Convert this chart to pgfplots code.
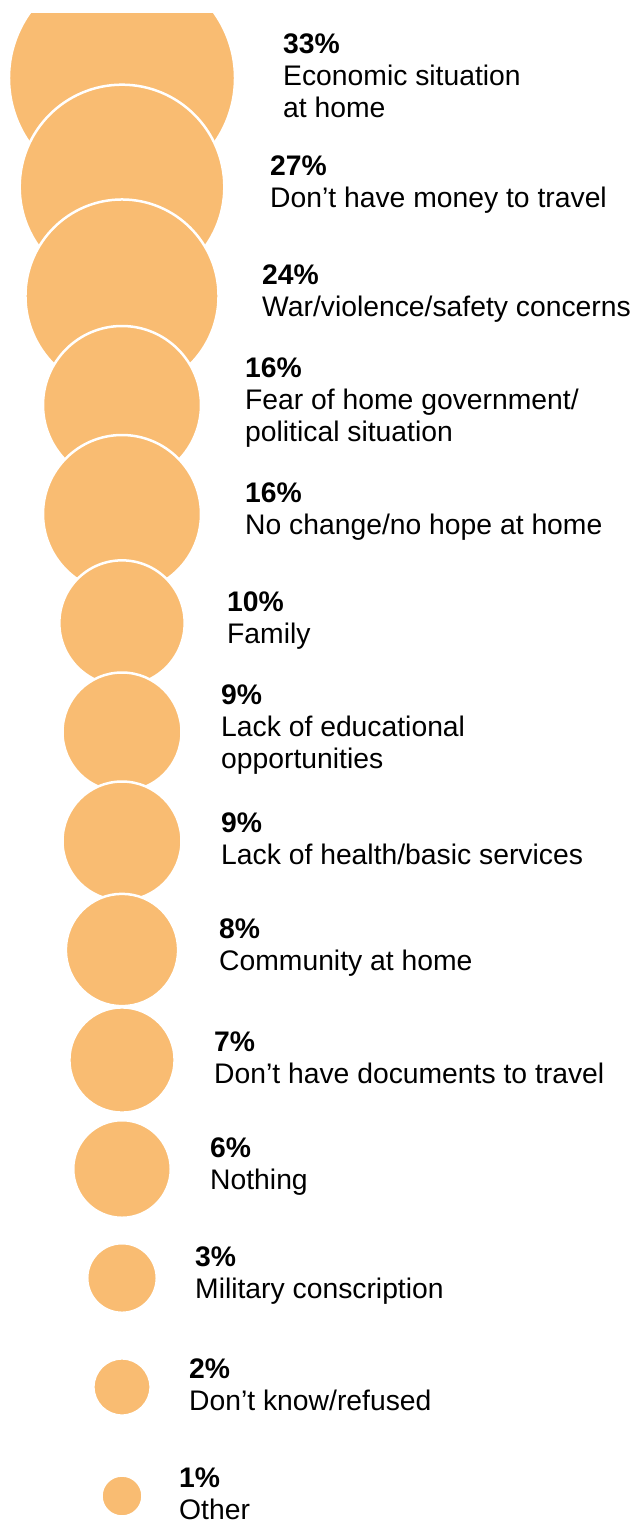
\documentclass[border=0pt]{standalone}
\usepackage{pgfplots}
\pgfplotsset{compat=1.18}
\usepackage{pgfplotstable}
\usepackage{fontspec}
\setmainfont{Liberation Sans}
\definecolor{bubble}{RGB}{249,188,114}

% y = bubble centre (px from top), v = share in %, lx = left edge of label
\pgfplotstableread[col sep=comma]{
cx,y,v,lx,label
122,78,33,283,{\textbf{33\%}\\Economic situation\\at home}
122,187,27,270,{\textbf{27\%}\\Don’t have money to travel}
122,296,24,262,{\textbf{24\%}\\War/violence/safety concerns}
122,405,16,245,{\textbf{16\%}\\Fear of home government/\\political situation}
122,514,16,245,{\textbf{16\%}\\No change/no hope at home}
122,623,10,227,{\textbf{10\%}\\Family}
122,732,9,221,{\textbf{9\%}\\Lack of educational\\opportunities}
122,841,9,221,{\textbf{9\%}\\Lack of health/basic services}
122,950,8,219,{\textbf{8\%}\\Community at home}
122,1060,7,214,{\textbf{7\%}\\Don’t have documents to travel}
122,1169,6,210,{\textbf{6\%}\\Nothing}
122,1278,3,195,{\textbf{3\%}\\Military conscription}
122,1387,2,189,{\textbf{2\%}\\Don’t know/refused}
122,1496,1,179,{\textbf{1\%}\\Other}
}\reasons

\begin{document}
\begin{tikzpicture}
\begin{axis}[
    width=633pt, height=1508pt, scale only axis,
    xmin=0, xmax=633, ymin=13, ymax=1521, y dir=reverse,
    hide axis,
    clip marker paths=true,
]
    % bubbles, area proportional to the share
    \addplot[scatter, only marks, mark=*,
        scatter/use mapped color={draw=white, fill=bubble},
        mark options={line width=2.5pt},
        visualization depends on={19.5*sqrt(\thisrow{v})+1 \as \rad},
        scatter/@pre marker code/.append style={/tikz/mark size=\rad}]
        table[x=cx, y=y, meta=v]{\reasons};

    % labels
    \addplot[draw=none, mark=none,
        point meta=explicit symbolic,
        nodes near coords,
        every node near coord/.append style={anchor=west, align=left,
            inner sep=0pt, text=black, yshift=2.5pt,
            font=\fontsize{28.3}{32}\selectfont}]
        table[x=lx, y=y, meta=label]{\reasons};
\end{axis}
\pgfresetboundingbox
\path (current axis.south west) rectangle ([yshift=13pt]current axis.north east);
\end{tikzpicture}
\end{document}
